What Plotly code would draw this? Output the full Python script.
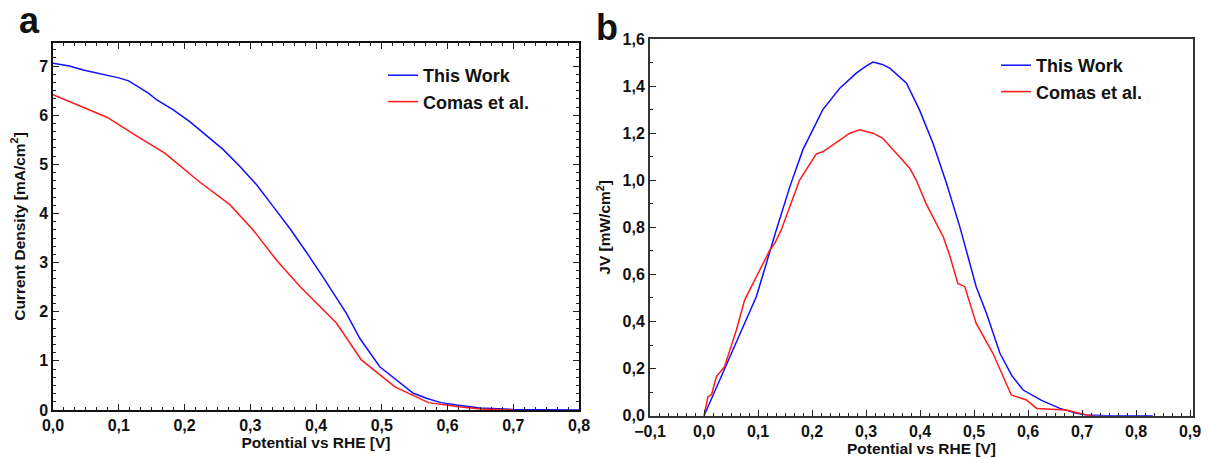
import plotly.graph_objects as go

# ---------------- data ----------------
# Panel a: current density vs potential
v_this_a = [0.000, 0.010, 0.025, 0.046, 0.070, 0.087, 0.100, 0.115, 0.132, 0.145, 0.158,
            0.170, 0.183, 0.208, 0.233, 0.259, 0.284, 0.310, 0.335, 0.360, 0.386, 0.411,
            0.446, 0.467, 0.497, 0.523, 0.548, 0.568, 0.590, 0.614, 0.649, 0.700, 0.750, 0.800]
j_this_a = [7.06, 7.03, 7.00, 6.92, 6.85, 6.79, 6.76, 6.70, 6.55, 6.45, 6.31,
            6.22, 6.11, 5.87, 5.60, 5.30, 4.96, 4.58, 4.14, 3.70, 3.20, 2.70,
            1.97, 1.45, 0.88, 0.61, 0.34, 0.24, 0.15, 0.10, 0.04, 0.01, 0.0, 0.0]

v_comas_a = [0.000, 0.082, 0.127, 0.170, 0.224, 0.269, 0.304, 0.340, 0.376, 0.431,
             0.469, 0.520, 0.571, 0.614, 0.650, 0.700]
j_comas_a = [6.42, 5.96, 5.58, 5.23, 4.63, 4.18, 3.67, 3.05, 2.51, 1.77,
             1.02, 0.47, 0.15, 0.07, 0.02, 0.0]

# Panel b: JV vs potential
v_this_b = [0.000, 0.048, 0.097, 0.134, 0.159, 0.183, 0.220, 0.251, 0.282, 0.300, 0.313,
            0.330, 0.344, 0.375, 0.399, 0.424, 0.449, 0.474, 0.504, 0.523, 0.548, 0.570,
            0.591, 0.625, 0.659, 0.690, 0.708, 0.750, 0.831]
p_this_b = [0.000, 0.251, 0.506, 0.790, 0.973, 1.129, 1.300, 1.390, 1.455, 1.485, 1.502,
            1.492, 1.476, 1.412, 1.299, 1.157, 0.987, 0.800, 0.548, 0.435, 0.265, 0.170,
            0.109, 0.065, 0.031, 0.010, 0.003, 0.0, 0.0]

v_comas_b = [0.000, 0.0074, 0.014, 0.023, 0.038, 0.060, 0.075, 0.097, 0.122, 0.131, 0.143,
             0.177, 0.208, 0.220, 0.251, 0.270, 0.288, 0.313, 0.331, 0.356, 0.381, 0.393,
             0.411, 0.430, 0.443, 0.455, 0.470, 0.483, 0.504, 0.535, 0.569, 0.597, 0.616,
             0.671, 0.708, 0.720]
p_comas_b = [0.000, 0.081, 0.090, 0.166, 0.208, 0.364, 0.490, 0.590, 0.704, 0.732, 0.789,
             1.001, 1.112, 1.121, 1.171, 1.200, 1.214, 1.200, 1.178, 1.115, 1.051, 1.001,
             0.902, 0.817, 0.760, 0.680, 0.562, 0.548, 0.392, 0.265, 0.088, 0.067, 0.031,
             0.024, 0.003, 0.0]

series_names = ["This Work", "Comas et al."]
series_colors = ["#1010FF", "#FF1A1A"]

xticks_a = [0.0, 0.1, 0.2, 0.3, 0.4, 0.5, 0.6, 0.7, 0.8]
yticks_a = [0, 1, 2, 3, 4, 5, 6, 7]
xticks_b = [-0.1, 0.0, 0.1, 0.2, 0.3, 0.4, 0.5, 0.6, 0.7, 0.8, 0.9]
yticks_b = [0.0, 0.2, 0.4, 0.6, 0.8, 1.0, 1.2, 1.4, 1.6]

panel_labels = ["a", "b"]

W, H = 1208, 459
FONT = "Liberation Sans, Arial, sans-serif"

def px_x(p):
    return p / W

def px_y(p):
    return 1 - p / H

fig = go.Figure()
fig.add_trace(go.Scatter(x=v_this_a, y=j_this_a, mode="lines", name=series_names[0],
                         line=dict(color=series_colors[0], width=1.5),
                         xaxis="x", yaxis="y", legend="legend"))
fig.add_trace(go.Scatter(x=v_comas_a, y=j_comas_a, mode="lines", name=series_names[1],
                         line=dict(color=series_colors[1], width=1.5),
                         xaxis="x", yaxis="y", legend="legend"))
fig.add_trace(go.Scatter(x=v_this_b, y=p_this_b, mode="lines", name=series_names[0],
                         line=dict(color=series_colors[0], width=1.5),
                         xaxis="x2", yaxis="y2", legend="legend2"))
fig.add_trace(go.Scatter(x=v_comas_b, y=p_comas_b, mode="lines", name=series_names[1],
                         line=dict(color=series_colors[1], width=1.5),
                         xaxis="x2", yaxis="y2", legend="legend2"))

tickfont = dict(family=FONT, size=16, color="#111", weight="bold")
titlefont = dict(family=FONT, size=15.5, color="#111", weight="bold")

common = dict(showgrid=False, zeroline=False, ticks="inside", ticklen=6, tickwidth=1.3,
              tickcolor="#222", showline=True, tickfont=tickfont, automargin=False)

legfont = dict(family=FONT, size=18, color="#111", weight="bold")

fig.update_layout(
    width=W, height=H, margin=dict(l=0, r=0, t=0, b=0),
    paper_bgcolor="white", plot_bgcolor="white",
    separators=",.",
    xaxis=dict(domain=[px_x(53), px_x(579)], range=[0, 0.8], anchor="y",
               tickvals=xticks_a, tickformat=".1f", mirror="allticks",
               linecolor="#111", linewidth=1.5,
               minor=dict(dtick=0.1 / 6, ticks="inside", ticklen=3, tickcolor="#222"),
               title=dict(text="Potential vs RHE [V]", font=titlefont, standoff=0),
               **common),
    yaxis=dict(domain=[px_y(410), px_y(43)], range=[0, 7.47], anchor="x",
               tickvals=yticks_a, tickformat="d", mirror="allticks",
               linecolor="#111", linewidth=1.5,
               minor=dict(dtick=1 / 6, ticks="inside", ticklen=3, tickcolor="#222"),
               title=dict(text="Current Density [mA/cm<sup>2</sup>]", font=titlefont, standoff=10),
               **common),
    xaxis2=dict(domain=[px_x(650), px_x(1193)], range=[-0.1, 0.9055], anchor="y2",
                tickvals=xticks_b, tickformat=".1f", mirror=True,
                linecolor="#333", linewidth=2,
                minor=dict(dtick=0.1 / 6, ticks="inside", ticklen=3, tickcolor="#222"),
                title=dict(text="Potential vs RHE [V]", font=titlefont, standoff=4),
                **common),
    yaxis2=dict(domain=[px_y(415.7), px_y(39)], range=[0, 1.6], anchor="x2",
                tickvals=yticks_b, tickformat=".1f", mirror=True,
                linecolor="#333", linewidth=2,
                minor=dict(dtick=0.1, ticks="inside", ticklen=3, tickcolor="#222"),
                title=dict(text="JV [mW/cm<sup>2</sup>]", font=titlefont, standoff=8),
                **common),
    legend=dict(x=px_x(383), y=px_y(57), xanchor="left", yanchor="top",
                bgcolor="rgba(0,0,0,0)", borderwidth=0, font=legfont, tracegroupgap=0),
    legend2=dict(x=px_x(996), y=px_y(47), xanchor="left", yanchor="top",
                 bgcolor="rgba(0,0,0,0)", borderwidth=0, font=legfont, tracegroupgap=0),
    annotations=[
        dict(text=panel_labels[0], x=px_x(29), y=px_y(21), xref="paper", yref="paper",
             xanchor="center", yanchor="middle", showarrow=False,
             font=dict(family=FONT, size=36, color="#111", weight="bold")),
        dict(text=panel_labels[1], x=px_x(607), y=px_y(27), xref="paper", yref="paper",
             xanchor="center", yanchor="middle", showarrow=False,
             font=dict(family=FONT, size=36, color="#111", weight="bold")),
    ],
)

fig.write_html("out.html")
